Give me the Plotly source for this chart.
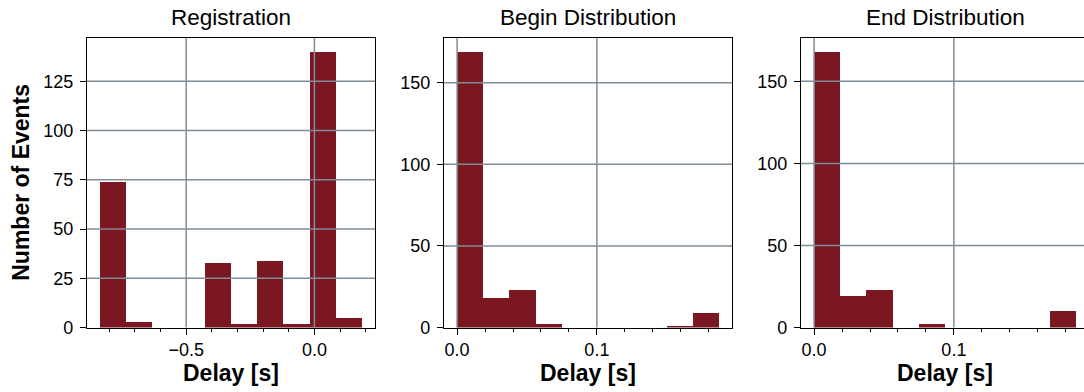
import numpy as np
import plotly.graph_objects as go

# Histogram counts (10 equal-width bins per panel) and the bin span of each
titles = ["Registration", "Begin Distribution", "End Distribution"]

reg_counts = [74, 3, 0, 0, 33, 2, 34, 2, 140, 5]
reg_span = (-0.8357, 0.1852)

begin_counts = [169, 18, 23, 2, 0, 0, 0, 0, 1, 9]
begin_span = (0.0, 0.1873)

end_counts = [168, 19, 23, 0, 2, 0, 0, 0, 0, 10]
end_span = (0.0, 0.1873)

x_major = [[-0.5, 0.0], [0.0, 0.1], [0.0, 0.1]]
x_minor_step = [0.1, 0.02, 0.02]
y_step = [25, 50, 50]

BAR = "#7b1720"
GRID = "#818d96"
FONT = "Liberation Sans, Arial, sans-serif"

W, H = 1084, 392
ax_w = 288
ax_left = [87, 444, 801]
ax_top, ax_bottom = 38, 327.5

panels = [
    (reg_counts, reg_span),
    (begin_counts, begin_span),
    (end_counts, end_span),
]

fig = go.Figure()
shapes = []
annotations = []

for i, (counts, span) in enumerate(panels):
    n = len(counts)
    edges = np.linspace(span[0], span[1], n + 1)
    centers = (edges[:-1] + edges[1:]) / 2
    bw = edges[1] - edges[0]
    xs = "x" if i == 0 else f"x{i+1}"
    ys = "y" if i == 0 else f"y{i+1}"
    fig.add_trace(go.Bar(
        x=centers, y=counts, width=bw,
        marker=dict(color=BAR, line=dict(width=0)),
        xaxis=xs, yaxis=ys, showlegend=False,
        hovertemplate="%{y}<extra></extra>",
    ))

    # matplotlib-style 5% horizontal margins, 5% headroom on top
    dspan = span[1] - span[0]
    x0 = span[0] - 0.05 * dspan
    x1 = span[1] + 0.05 * dspan
    left = ax_left[i]
    right = min(left + ax_w, W)
    x1_vis = x0 + (x1 - x0) * (right - left) / ax_w
    ymax = max(counts) * 1.05

    xkey = "xaxis" if i == 0 else f"xaxis{i+1}"
    ykey = "yaxis" if i == 0 else f"yaxis{i+1}"
    fig.layout[xkey] = dict(
        domain=[left / W, right / W], anchor=ys, range=[x0, x1_vis],
        automargin=False,
        tickmode="array", tickvals=x_major[i], tickformat=".1f",
        ticks="outside", ticklen=6, tickwidth=1.2, tickcolor="black",
        minor=dict(ticks="outside", ticklen=3.5, tickwidth=1, tickcolor="black",
                   dtick=x_minor_step[i], tick0=0, showgrid=False),
        showgrid=False, zeroline=False,
        showline=True, linecolor="black", linewidth=1.3, mirror=True,
        tickfont=dict(family=FONT, size=18, color="black"),
    )
    fig.layout[ykey] = dict(
        domain=[1 - ax_bottom / H, 1 - ax_top / H], anchor=xs, range=[0, ymax],
        automargin=False,
        dtick=y_step[i], tick0=0,
        ticks="outside", ticklen=6, tickwidth=1.2, tickcolor="black",
        ticklabelstandoff=3,
        showgrid=False, zeroline=False,
        showline=True, linecolor="black", linewidth=1.3, mirror=(i < 2),
        tickfont=dict(family=FONT, size=18, color="black"),
    )

    # grid drawn over the bars
    for xv in x_major[i]:
        shapes.append(dict(type="line", xref=xs, yref=f"{ys} domain",
                           x0=xv, x1=xv, y0=0, y1=1, layer="above",
                           line=dict(color=GRID, width=1.5)))
    yv = y_step[i]
    while yv < ymax:
        shapes.append(dict(type="line", xref=f"{xs} domain", yref=ys,
                           x0=0, x1=1, y0=yv, y1=yv, layer="above",
                           line=dict(color=GRID, width=1.5)))
        yv += y_step[i]

    cx = (left + ax_w / 2) / W
    annotations.append(dict(
        text=titles[i], xref="paper", yref="paper",
        x=cx, y=1 - 3 / H, xanchor="center", yanchor="top",
        showarrow=False, font=dict(family=FONT, size=22.5, color="black"),
    ))
    annotations.append(dict(
        text="<b>Delay [s]</b>", xref="paper", yref="paper",
        x=cx, y=1 - 358 / H, xanchor="center", yanchor="top",
        showarrow=False, font=dict(family=FONT, size=23, color="black"),
    ))

annotations.append(dict(
    text="<b>Number of Events</b>", xref="paper", yref="paper",
    x=21 / W, y=1 - (ax_top + ax_bottom) / 2 / H, xanchor="center", yanchor="middle",
    textangle=-90, showarrow=False,
    font=dict(family=FONT, size=23, color="black"),
))

fig.update_layout(
    width=W, height=H,
    margin=dict(l=0, r=0, t=0, b=0),
    paper_bgcolor="white", plot_bgcolor="white",
    bargap=0, shapes=shapes, annotations=annotations,
)

fig.write_html("out.html")
